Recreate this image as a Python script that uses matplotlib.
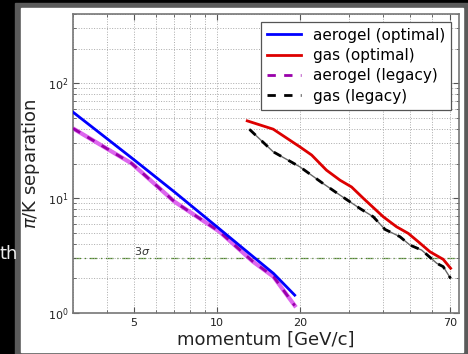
import matplotlib
matplotlib.use("Agg")
import matplotlib.pyplot as plt
from matplotlib.patches import Rectangle
from matplotlib.ticker import FixedLocator, NullFormatter

# aerogel (optimal)
aero_opt_p = [3.0, 5.0, 7.0, 10.0, 13.0, 16.0, 19.1]
aero_opt_s = [56.0, 21.5, 11.3, 5.6, 3.33, 2.21, 1.43]

# aerogel (legacy)
aero_leg_p = [3.0, 4.9, 7.0, 10.2, 13.5, 16.0, 19.1]
aero_leg_s = [40.4, 20.0, 9.3, 5.1, 2.79, 2.07, 1.16]

# gas (optimal)
gas_opt_p = [12.85, 15.96, 19.95, 22.0, 24.9, 27.9, 30.7, 33.9, 40.0, 44.7,
             49.3, 53.6, 59.1, 66.0, 70.2]
gas_opt_s = [47.0, 39.8, 27.9, 23.7, 17.5, 14.3, 12.5, 9.94, 6.88, 5.63,
             4.93, 4.17, 3.41, 2.93, 2.45]

# gas (legacy)
gas_leg_p = [13.1, 15.96, 19.95, 24.2, 27.9, 32.9, 36.8, 40.6, 46.0, 50.0,
             55.1, 59.1, 62.5, 66.0, 70.2]
gas_leg_s = [39.6, 25.3, 18.7, 13.4, 10.6, 8.13, 6.88, 5.34, 4.61, 3.90,
             3.53, 3.05, 2.71, 2.53, 2.00]

x_major = [5, 10, 20, 70]
x_minor = [3, 4, 6, 7, 8, 9, 30, 40, 50, 60]
three_sigma = 3.0

W, H = 468, 354
fig = plt.figure(figsize=(W / 100, H / 100), dpi=100, facecolor="black")

# slide-like frame behind the plot
fig.patches.append(Rectangle((15 / W, 0), (W - 15) / W, (H - 3) / H,
                             transform=fig.transFigure, color="#5a5a5a", zorder=-3))
fig.patches.append(Rectangle((21 / W, 2 / H), (463 - 21) / W, (346 - 2) / H,
                             transform=fig.transFigure, color="white", zorder=-2))
fig.text(0.0, 1 - 254 / H, "th", color="#eeeeee", fontsize=13, va="center", ha="left")

ax = fig.add_axes([73 / W, 1 - 313 / H, (459 - 73) / W, (313 - 14) / H])
ax.set_xscale("log")
ax.set_yscale("log")

ax.plot(aero_opt_p, aero_opt_s, color="#0000ff", lw=2, label="aerogel (optimal)", zorder=4)
ax.plot(gas_opt_p, gas_opt_s, color="#dd0000", lw=2, label="gas (optimal)", zorder=4)
ax.plot(aero_leg_p, aero_leg_s, color="#dd66ee", lw=3, zorder=2)
ax.plot(aero_leg_p, aero_leg_s, color="#9900aa", lw=2, ls="--", dashes=(3, 3),
        label="aerogel (legacy)", zorder=3)
ax.plot(gas_leg_p, gas_leg_s, color="#666666", lw=1, zorder=2)
ax.plot(gas_leg_p, gas_leg_s, color="black", lw=2, ls="--", dashes=(3, 3),
        label="gas (legacy)", zorder=3)

ax.axhline(three_sigma, color="#4d8a26", lw=0.9, ls="-.", dashes=(6, 3, 1, 3), zorder=1)
ax.text(5.0, three_sigma * 1.03, r"3$\sigma$", fontsize=8, color="#333333",
        ha="left", va="bottom")

ax.set_xlim(3.0, 75.3)
ax.set_ylim(1, 400)

ax.xaxis.set_major_locator(FixedLocator(x_major))
ax.set_xticklabels([str(v) for v in x_major])
ax.xaxis.set_minor_locator(FixedLocator(x_minor))
ax.xaxis.set_minor_formatter(NullFormatter())

ax.grid(True, which="both", ls=":", color="#aaaaaa", lw=0.7)
ax.tick_params(which="both", direction="in", top=True, right=True, labelsize=8,
               color="#555555", labelcolor="#222222")
ax.tick_params(which="major", length=4)
ax.tick_params(which="minor", length=2)
for s in ax.spines.values():
    s.set_color("#777777")
    s.set_linewidth(1.2)

ax.set_xlabel("momentum [GeV/c]", fontsize=13, labelpad=2, color="#222222")
ax.set_ylabel(r"$\pi$/K separation", fontsize=13, labelpad=4, color="#222222")

leg = ax.legend(loc="upper right", fontsize=11, fancybox=False, framealpha=1,
                edgecolor="#555555", handlelength=2.2, borderpad=0.4,
                labelspacing=0.35)
leg.get_frame().set_linewidth(0.9)

fig.savefig("out.png", dpi=100, facecolor=fig.get_facecolor())
